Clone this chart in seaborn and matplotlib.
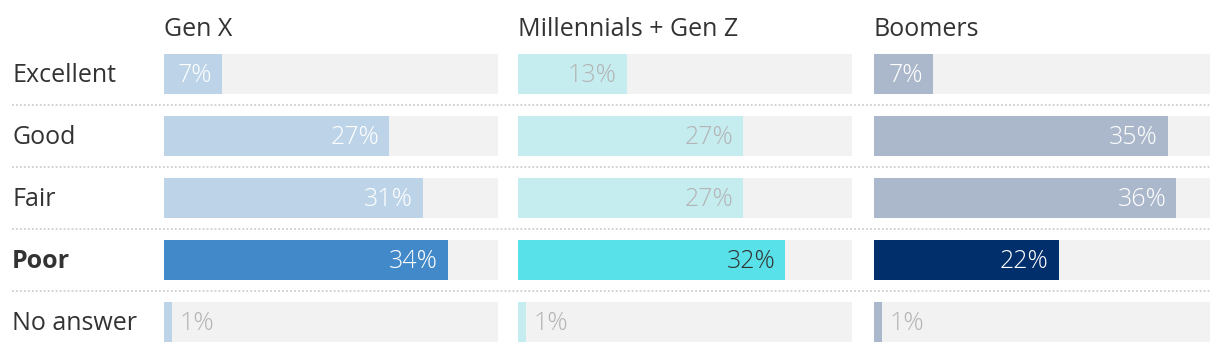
import numpy as np
import pandas as pd
import matplotlib.pyplot as plt
import seaborn as sns

ratings = ["Excellent", "Good", "Fair", "Poor", "No answer"]
groups = ["Gen X", "Millennials + Gen Z", "Boomers"]
gen_x = [7, 27, 31, 34, 1]
millennials = [13, 27, 27, 32, 1]
boomers = [7, 35, 36, 22, 1]
scale_max = 40

light = ["#bdd4e8", "#c5edf0", "#abb8cb"]
strong = ["#4189c9", "#58e1e9", "#002f6c"]
light_text = ["white", "#b4b4b4", "white"]
strong_text = ["white", "#333333", "white"]
track = "#f2f2f2"

sns.set_style("white")
plt.rcParams["font.family"] = ["Open Sans", "DejaVu Sans"]
FS = 18

W, H = 1220, 352
fig = plt.figure(figsize=(W / 100, H / 100), dpi=100)

# rows: centre of first row at y=74 px, pitch 62 px
top_px, pitch = 43, 62
ax_h = pitch * len(ratings)


def px_axes(x0, x1):
    return fig.add_axes([x0 / W, (H - top_px - ax_h) / H, (x1 - x0) / W, ax_h / H])


# background axis for row labels and dotted separators
bg = px_axes(12, 1210)
bg.set_xlim(0, 1)
bg.set_ylim(len(ratings) - 0.5, -0.5)
bg.axis("off")
for i in range(len(ratings) - 1):
    bg.axhline(i + 0.5, color="#cfcfcf", lw=1.3, ls=(0, (1, 1.2)))
for i, r in enumerate(ratings):
    bg.text(0, i + 0.02, r, va="center", ha="left", fontsize=FS, color="#333333",
            fontweight="bold" if r == "Poor" else "normal")

panels = [(164, 498), (518, 852), (874, 1210)]
values = [gen_x, millennials, boomers]

for k, (x0, x1) in enumerate(panels):
    ax = px_axes(x0, x1)
    df = pd.DataFrame({"rating": ratings, "pct": values[k], "full": [scale_max] * len(ratings)})
    sns.barplot(data=df, y="rating", x="full", color=track, width=40 / 62,
                saturation=1, linewidth=0, ax=ax, orient="h")
    cols = [strong[k] if r == "Poor" else light[k] for r in ratings]
    sns.barplot(data=df, y="rating", x="pct", hue="rating", palette=cols, legend=False,
                width=40 / 62, saturation=1, linewidth=0, ax=ax, orient="h")
    ax.set_xlim(0, scale_max)
    ax.set_ylim(len(ratings) - 0.5, -0.5)
    ax.axis("off")
    for i, (r, v) in enumerate(zip(ratings, values[k])):
        if v < 3:
            ax.text(v + 0.9, i + 0.02, f"{v}%", va="center", ha="left", fontsize=FS,
                    color="#b4b4b4", fontweight="light")
        else:
            c = strong_text[k] if r == "Poor" else light_text[k]
            ax.text(v - 1.2, i + 0.02, f"{v}%", va="center", ha="right", fontsize=FS,
                    color=c, fontweight="light")
    fig.text(x0 / W, 1 - 29 / H, groups[k], va="center", ha="left", fontsize=FS, color="#333333")

fig.savefig("out.png", dpi=100)
